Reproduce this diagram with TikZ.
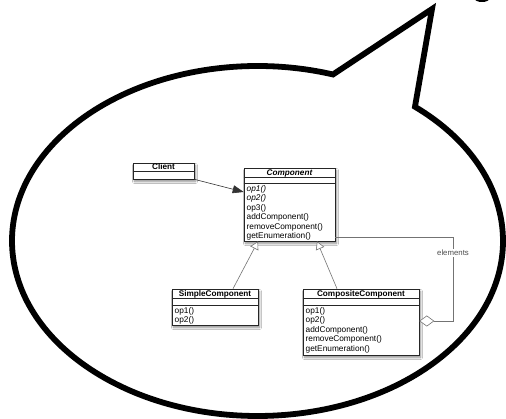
\documentclass[tikz,border=0pt]{standalone}
\usepackage{fontspec}
\setmainfont{Liberation Sans}
\usetikzlibrary{arrows.meta,shadows.blur,calc}
\begin{document}
\begin{tikzpicture}[x=1pt,y=-1pt,
  umlbox/.style={draw=black!85, line width=0.6pt, fill=white, inner sep=0pt,
    blur shadow={shadow xshift=1.5pt, shadow yshift=-2.5pt, shadow blur radius=2pt, shadow blur steps=6, shadow opacity=45}},
  div/.style={draw=black!85, line width=0.5pt},
  ttl/.style={font=\fontsize{8.2}{9.5}\selectfont\bfseries, anchor=base, inner sep=0pt},
  mt/.style={font=\fontsize{8.3}{9.5}\selectfont, anchor=base west, inner sep=0pt},
  conn/.style={draw=black!55, line width=0.6pt},
  bubble/.style={draw=black, line width=5.8pt, line join=miter}
]
\useasboundingbox (0,0) rectangle (506,419);
\fill[white] (0,0) rectangle (506,419);

% speech bubble
\coordinate (bc) at (257.5,241);
\coordinate (tip) at (432,9);
\coordinate (rb) at ($(bc)+(50.1:245.5pt and 175pt)$);
\coordinate (lb) at ($(bc)+(72.1:245.5pt and 175pt)$);
\draw[bubble] (lb) -- (tip) -- (rb) arc[start angle=50.1, end angle=-287.9, x radius=245.5pt, y radius=175pt] -- cycle;
\fill[black] (482,-1) ellipse [x radius=7pt, y radius=3pt];

% Client
\node[umlbox, minimum width=61pt, minimum height=16pt] (client) at (163.5,171) {};
\draw[div] (client.west |- 0,171) -- (client.east |- 0,171);
\node[ttl] (clientT) at (163.5,170) {Client};

% Component
\node[umlbox, minimum width=91pt, minimum height=73pt] (comp) at (289.5,204.5) {};
\draw[div] (comp.west |- 0,177) -- (comp.east |- 0,177);
\draw[div] (comp.west |- 0,183) -- (comp.east |- 0,183);
\node[ttl] (compT) at (289.5,175.3) {\itshape Component};
\node[mt] (cm1) at (246.5,191.5) {\itshape op1()};
\node[mt] (cm2) at (246.5,201) {\itshape op2()};
\node[mt] (cm3) at (246.5,210.5) {op3()};
\node[mt] (cm4) at (246.5,220) {addComponent()};
\node[mt] (cm5) at (246.5,229.5) {removeComponent()};
\node[mt] (cm6) at (246.5,239) {getEnumeration()};

% SimpleComponent
\node[umlbox, minimum width=86pt, minimum height=36pt] (simple) at (215,307) {};
\draw[div] (simple.west |- 0,298) -- (simple.east |- 0,298);
\draw[div] (simple.west |- 0,305) -- (simple.east |- 0,305);
\node[ttl] (simpleT) at (215,296.3) {SimpleComponent};
\node[mt] (sm1) at (174.5,313.5) {op1()};
\node[mt] (sm2) at (174.5,322.5) {op2()};

% CompositeComponent
\node[umlbox, minimum width=116pt, minimum height=66pt] (compo) at (361,322) {};
\draw[div] (compo.west |- 0,298) -- (compo.east |- 0,298);
\draw[div] (compo.west |- 0,305) -- (compo.east |- 0,305);
\node[ttl] (compoT) at (361,296.3) {CompositeComponent};
\node[mt] (pm1) at (305.5,313.5) {op1()};
\node[mt] (pm2) at (305.5,323) {op2()};
\node[mt] (pm3) at (305.5,332.5) {addComponent()};
\node[mt] (pm4) at (305.5,342) {removeComponent()};
\node[mt] (pm5) at (305.5,351.5) {getEnumeration()};

% connectors
\coordinate (cl1) at (client.south east);
\coordinate (co1) at (comp.west |- 0,192);
\draw[draw=black!80, line width=0.6pt, -{Triangle[length=11pt,width=8pt]}] (cl1) -- (co1);

\coordinate (s1) at (simple.north -| 233,0);
\coordinate (s2) at (comp.south -| 258,0);
\draw[conn, -{Triangle[open, length=8pt, width=9pt, fill=white]}] (s1) -- (s2);
\coordinate (p1) at (compo.north -| 337,0);
\coordinate (p2) at (comp.south -| 317,0);
\draw[conn, -{Triangle[open, length=8pt, width=9pt, fill=white]}] (p1) -- (p2);

\coordinate (a1) at (comp.east |- 0,237);
\coordinate (a2) at (453,237);
\coordinate (a3) at (453,321);
\coordinate (a4) at (compo.east |- 0,321);
\draw[conn, -{Diamond[open, length=15pt, width=11pt, fill=white]}] (a1) -- (a2) -- (a3) -- (a4);
\node[fill=white, inner sep=1pt, text=black!70, font=\fontsize{7.8}{9}\selectfont] (elab) at (453,253) {elements};
\end{tikzpicture}
\end{document}
